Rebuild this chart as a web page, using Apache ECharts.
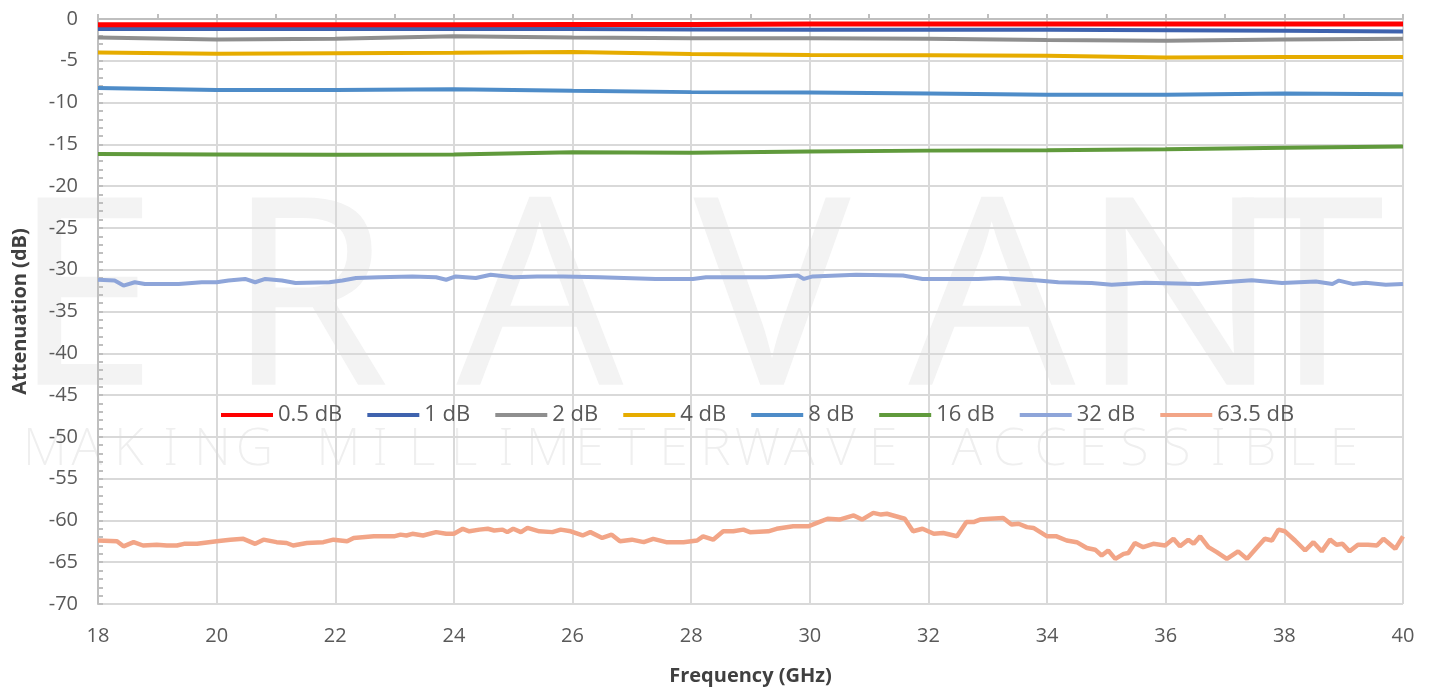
<!DOCTYPE html>
<html>
<head>
<meta charset="utf-8">
<script src="https://cdn.jsdelivr.net/npm/echarts@6/dist/echarts.min.js"></script>
<style>
html,body{margin:0;padding:0;background:#fff;}
#chart{width:1431px;height:688px;}
</style>
</head>
<body>
<div id="chart"></div>
<script>
// ---- DATA ----
const seriesNames = ['0.5 dB','1 dB','2 dB','4 dB','8 dB','16 dB','32 dB','63.5 dB'];
const freqCoarse = [18,20,22,24,26,28,30,32,34,36,38,40];
const att05 = [-0.7,-0.7,-0.7,-0.7,-0.65,-0.65,-0.6,-0.6,-0.6,-0.6,-0.6,-0.6];
const att1  = [-1.2,-1.2,-1.2,-1.2,-1.2,-1.25,-1.3,-1.3,-1.3,-1.35,-1.4,-1.5];
const att2  = [-2.2,-2.45,-2.35,-2.05,-2.2,-2.3,-2.3,-2.35,-2.5,-2.6,-2.45,-2.35];
const att4  = [-4.0,-4.15,-4.1,-4.05,-3.95,-4.2,-4.3,-4.35,-4.4,-4.6,-4.55,-4.55];
const att8  = [-8.25,-8.5,-8.5,-8.4,-8.6,-8.75,-8.8,-8.9,-9.05,-9.05,-8.9,-9.0];
const att16 = [-16.15,-16.2,-16.25,-16.2,-15.95,-16.0,-15.85,-15.75,-15.7,-15.6,-15.4,-15.25];
const freq32 = [18.0,18.28,18.43,18.62,18.79,19.36,19.75,20.0,20.2,20.48,20.65,20.82,21.1,21.33,21.9,22.12,22.35,22.74,23.3,23.7,23.87,24.03,24.2,24.37,24.62,25.0,25.4,25.84,26.46,27.4,28.03,28.25,29.26,29.8,29.9,30.05,30.78,31.57,31.9,32.84,33.18,33.85,34.19,34.75,35.09,35.65,36.55,37.45,37.96,38.53,38.81,38.92,39.15,39.37,39.71,40.0];
const att32  = [-31.2,-31.3,-31.9,-31.5,-31.7,-31.7,-31.5,-31.5,-31.3,-31.1,-31.5,-31.1,-31.3,-31.6,-31.5,-31.3,-31.0,-30.9,-30.8,-30.9,-31.2,-30.8,-30.9,-31.0,-30.6,-30.9,-30.8,-30.8,-30.9,-31.1,-31.1,-30.9,-30.9,-30.7,-31.1,-30.8,-30.6,-30.7,-31.1,-31.1,-31.0,-31.3,-31.5,-31.6,-31.8,-31.55,-31.7,-31.25,-31.6,-31.4,-31.7,-31.3,-31.7,-31.55,-31.8,-31.7];
const freq635 = [18.0,18.32,18.43,18.6,18.76,18.99,19.16,19.33,19.45,19.67,20.0,20.23,20.45,20.65,20.79,21.01,21.18,21.29,21.52,21.8,21.97,22.2,22.31,22.65,22.99,23.1,23.2,23.3,23.48,23.7,23.87,24.0,24.15,24.26,24.43,24.57,24.68,24.82,24.9,25.0,25.13,25.24,25.44,25.66,25.8,25.97,26.17,26.3,26.5,26.66,26.8,27.0,27.2,27.36,27.58,27.87,28.1,28.2,28.37,28.54,28.71,28.88,28.99,29.3,29.44,29.72,29.98,30.12,30.3,30.5,30.74,30.88,31.07,31.2,31.3,31.45,31.6,31.74,31.9,32.09,32.25,32.48,32.64,32.76,32.87,33.04,33.26,33.4,33.52,33.66,33.77,34.0,34.16,34.33,34.5,34.67,34.81,34.92,35.03,35.15,35.29,35.37,35.48,35.62,35.79,35.99,36.13,36.24,36.38,36.47,36.58,36.72,36.86,37.03,37.22,37.37,37.53,37.67,37.79,37.9,38.01,38.18,38.35,38.49,38.63,38.77,38.88,38.98,39.1,39.24,39.41,39.56,39.67,39.87,40.0];
const att635  = [-62.4,-62.5,-63.1,-62.6,-63.0,-62.9,-63.0,-63.0,-62.8,-62.8,-62.5,-62.3,-62.2,-62.8,-62.3,-62.6,-62.7,-63.0,-62.7,-62.6,-62.3,-62.5,-62.1,-61.9,-61.9,-61.7,-61.8,-61.6,-61.8,-61.4,-61.6,-61.6,-61.0,-61.3,-61.1,-61.0,-61.2,-61.1,-61.4,-61.0,-61.4,-60.9,-61.3,-61.4,-61.1,-61.3,-61.8,-61.4,-62.1,-61.7,-62.5,-62.3,-62.6,-62.2,-62.6,-62.6,-62.4,-61.9,-62.3,-61.3,-61.3,-61.1,-61.4,-61.3,-61.0,-60.7,-60.7,-60.3,-59.8,-59.9,-59.4,-59.9,-59.1,-59.3,-59.2,-59.5,-59.8,-61.3,-61.0,-61.6,-61.5,-61.9,-60.2,-60.2,-59.9,-59.8,-59.7,-60.5,-60.4,-60.8,-60.9,-61.9,-61.9,-62.4,-62.6,-63.3,-63.5,-64.2,-63.6,-64.6,-64.0,-63.9,-62.7,-63.2,-62.8,-63.0,-62.2,-63.1,-62.3,-62.8,-61.9,-63.2,-63.8,-64.6,-63.7,-64.6,-63.3,-62.2,-62.4,-61.1,-61.3,-62.4,-63.6,-62.6,-63.7,-62.3,-62.9,-62.8,-63.7,-62.9,-62.9,-63.0,-62.2,-63.4,-61.9];
const xTickInterval = 2;
const yTickInterval = 5;

// ---- STYLE ----
const colors = ['#FF0000','#3F63AE','#8F8F8F','#E6AC00','#4E8CC8','#609A3C','#8EA5D9','#F2A587'];
const widths = [5,4,4,4,4,4,4,4.5];
const labelFont = "'Open Sans', 'DejaVu Sans', sans-serif";

function zip(xs, ys){ return xs.map((x,i)=>[x, ys[i]]); }
const seriesData = [
  zip(freqCoarse, att05), zip(freqCoarse, att1), zip(freqCoarse, att2), zip(freqCoarse, att4),
  zip(freqCoarse, att8), zip(freqCoarse, att16), zip(freq32, att32), zip(freq635, att635)
];

// watermark (decoration)
const wm = [];
const big = 'ERAVANT';
const bigCenters = [85, 308, 540, 772, 992, 1180, 1312];
for (let i = 0; i < big.length; i++) {
  wm.push({type:'text', z:-10, x: bigCenters[i], y: 310, silent: true,
    style:{text: big[i], fill:'#F3F3F3', font: "normal 262px 'Noto Sans', 'Open Sans', sans-serif", textAlign:'center', textVerticalAlign:'middle'}});
}
const small = 'MAKING MILLIMETERWAVE ACCESSIBLE';
for (let i = 0; i < small.length; i++) {
  if (small[i] === ' ') continue;
  wm.push({type:'text', z:-10, x: 45 + i*41.9, y: 450, silent: true,
    style:{text: small[i], fill:'#EFEFEF', font: "200 52px 'Noto Sans', 'Open Sans', sans-serif", textAlign:'center', textVerticalAlign:'middle'}});
}

const chart = echarts.init(document.getElementById('chart'), null, {renderer:'canvas'});
chart.setOption({
  animation: false,
  backgroundColor: '#ffffff',
  graphic: wm,
  grid: {left: 98, right: 28, top: 19, bottom: 84, containLabel: false, outerBoundsMode: 'none'},
  legend: {
    data: seriesNames,
    left: 216, top: 399,
    icon: 'rect', itemWidth: 52, itemHeight: 4, itemGap: 25,
    textStyle: {fontFamily: labelFont, fontSize: 22, color: '#595959'}
  },
  xAxis: {
    type: 'value', min: 18, max: 40, interval: xTickInterval,
    name: 'Frequency (GHz)', nameLocation: 'middle', nameGap: 62,
    nameTextStyle: {fontFamily: labelFont, fontSize: 20, fontWeight: 'bold', color: '#404040'},
    axisLine: {show: true, lineStyle: {color: '#BFBFBF', width: 2}},
    axisTick: {show: true, inside: true, length: 5, lineStyle: {color: '#BFBFBF', width: 2}},
    minorTick: {show: true, splitNumber: 2, length: 5, lineStyle: {color: '#BFBFBF', width: 2}},
    splitLine: {show: true, lineStyle: {color: '#D9D9D9', width: 2}},
    axisLabel: {fontFamily: labelFont, fontSize: 20, color: '#595959', margin: 22}
  },
  yAxis: {
    type: 'value', min: -70, max: 0, interval: yTickInterval,
    name: 'Attenuation (dB)', nameLocation: 'middle', nameGap: 68,
    nameTextStyle: {fontFamily: labelFont, fontSize: 20, fontWeight: 'bold', color: '#404040'},
    axisLine: {show: true, lineStyle: {color: '#BFBFBF', width: 2}},
    axisTick: {show: true, inside: true, length: 5, lineStyle: {color: '#BFBFBF', width: 2}},
    minorTick: {show: true, splitNumber: 5, length: 5, lineStyle: {color: '#BFBFBF', width: 2}},
    splitLine: {show: true, lineStyle: {color: '#D9D9D9', width: 2}},
    axisLabel: {fontFamily: labelFont, fontSize: 20, color: '#595959', margin: 20}
  },
  series: seriesNames.map((n, i) => ({
    name: n, type: 'line', data: seriesData[i], showSymbol: false, symbol: 'none',
    smooth: false, color: colors[i],
    lineStyle: {color: colors[i], width: widths[i]},
    z: 10 - i
  }))
});
</script>
</body>
</html>
